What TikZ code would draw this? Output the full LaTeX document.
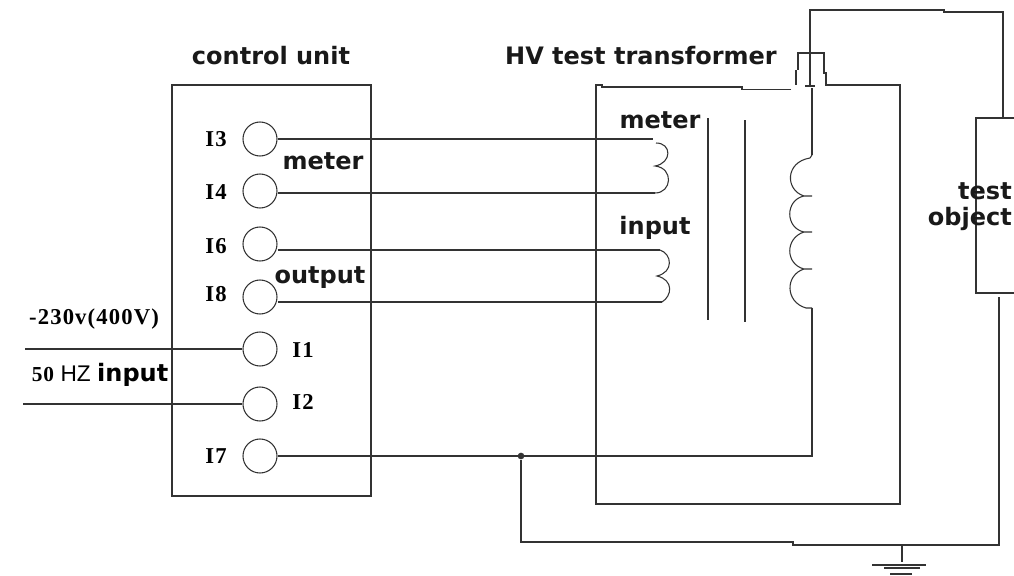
\documentclass[tikz,border=0pt]{standalone}
\usepackage{fontspec}
\setmainfont{Liberation Serif}
\newfontfamily\labelfont{DejaVu Sans}
\newfontfamily\pinfont[LetterSpace=5]{Liberation Serif}
\newfontfamily\hzfont{Liberation Sans}
\definecolor{wire}{gray}{0.2}
\begin{document}
\begin{tikzpicture}[x=0.75pt,y=-0.75pt]
    \tikzset{%
      wire/.style={draw=wire, line width=1.2pt},
      thinwire/.style={draw=wire, line width=0.8pt},
      term/.style={circle, draw=wire, line width=0.8pt, fill=white, inner sep=0pt, minimum
        size=25.5pt},
      jdot/.style={circle, fill=wire, inner sep=0pt, minimum size=5pt},
      pin/.style={font=\pinfont\bfseries\fontsize{17}{18}\selectfont, inner sep=0pt},
      head/.style={font=\labelfont\bfseries\fontsize{18}{19}\selectfont, inner sep=0pt, text=black!90},
    }
    \useasboundingbox (0,0) rectangle (1014,575);

    % control unit
    \draw [thinwire] (172,85) rectangle (371,496);
    \node[head] (CU) at (271,56) {control unit};
    \node[term] (T3) at (260,139) {};
    \node[term] (T4) at (260,191) {};
    \node[term] (T6) at (260,244) {};
    \node[term] (T8) at (260,297) {};
    \node[term] (T1) at (260,349) {};
    \node[term] (T2) at (260,404) {};
    \node[term] (T7) at (260,456) {};
    \node[pin] (P3) at (216,139) {I3};
    \node[pin] (P4) at (216,192) {I4};
    \node[pin] (P6) at (216,246) {I6};
    \node[pin] (P8) at (216,294) {I8};
    \node[pin] (P1) at (303,350) {I1};
    \node[pin] (P2) at (303,402) {I2};
    \node[pin] (P7) at (216,456) {I7};
    \node[head] (Lm) at (323,161) {meter};
    \node[head] (Lo) at (320,278) {output};

    % mains
    \coordinate (M1) at (25,349);
    \coordinate (M2) at (23,404);
    \draw [wire] (M1) -- (T1);
    \draw [wire] (M2) -- (T2);
    \node[pin] (V) at (94,319) {-230v(400V)};
    \node (Hz) at (100,375) [inner sep=0pt] {\pinfont\bfseries\fontsize{16}{18}\selectfont 50 {\hzfont\mdseries\fontsize{17}{18}\selectfont HZ} {\labelfont\bfseries\fontsize{18}{19}\selectfont input}};

    % HV test transformer
    \node[head] (HV) at (641,56) {HV test transformer};
    \draw [wire] (791,89.5) -- (742,89.5) -- (742,87) -- (602,87) -- (602,85) -- (596,85) -- (596,504)
      -- (900,504) -- (900,85) -- (826,85)
      -- (826,73) -- (824,73) -- (824,53) -- (798,53) -- (798,70);
    \draw [wire] (796,70) -- (796,85);

    % meter winding
    \coordinate (A1) at (653,139);
    \coordinate (A2) at (655,193);
    \draw [wire] (T3.east) -- (A1);
    \draw [wire] (T4.east |- A2) -- (A2);
    \draw [thinwire] (656,143) .. controls (672,143) and (672,163) .. (655,166)
      .. controls (674,168) and (672,193) .. (A2);
    \node[head] (Lm2) at (660,120) {meter};

    % input winding
    \coordinate (B1) at (660,250);
    \coordinate (B2) at (662,302);
    \draw [wire] (T6.east |- B1) -- (B1);
    \draw [wire] (T8.east |- B2) -- (B2);
    \draw [thinwire] (B1) .. controls (672,254) and (674,272) .. (657,276)
      .. controls (674,280) and (672,296) .. (B2);
    \node[head] (Li) at (655,228) {input};

    % core
    \coordinate (C1) at (708,118);
    \coordinate (C2) at (708,320);
    \coordinate (C3) at (745,120);
    \coordinate (C4) at (745,322);
    \draw [thinwire] (C1) -- (C2);
    \draw [thinwire] (C3) -- (C4);

    % HV winding
    \coordinate (S0) at (812,88);
    \coordinate (S1) at (812,155);
    \coordinate (S2) at (812,308);
    \coordinate (S3) at (812,456);
    \draw [wire] (S0) -- (S1);
    \draw [thinwire] (S1) -- (810,158) .. controls (785,162) and (785,190) .. (804,196)
      -- (812,196) -- (804,196) .. controls (785,200) and (785,228) .. (804,232)
      -- (812,232) -- (804,232) .. controls (785,238) and (785,264) .. (804,269)
      -- (812,269) -- (804,269) .. controls (785,275) and (785,302) .. (806,308) -- (S2);
    \draw [wire] (S2) -- (S3) -- (T7.east);
    \node[jdot] (J) at (521,456) {};

    % lead to test object
    \coordinate (L0) at (810,86);
    \coordinate (L1) at (810,10);
    \coordinate (L2) at (944,10);
    \coordinate (L3) at (944,12);
    \coordinate (L4) at (1003,12);
    \coordinate (L5) at (1003,118);
    \draw [wire] (805,86) -- (815,86);
    \draw [wire] (L0) -- (L1) -- (L2) -- (L3) -- (L4) -- (L5);

    % test object
    \draw [wire] (1014,118) -- (976,118) -- (976,293) -- (1014,293);
    \node[head, anchor=east] (Lt) at (1012,191) {test};
    \node[head, anchor=east] (Lob) at (1012,219) {object};

    % earth
    \coordinate (E0) at (999,297);
    \coordinate (E1) at (999,545);
    \coordinate (E2) at (793,545);
    \coordinate (E3) at (793,542);
    \coordinate (E4) at (521,542);
    \coordinate (E5) at (902,545);
    \coordinate (E6) at (902,562);
    \draw [wire] (E0) -- (E1) -- (E2) -- (E3) -- (E4) -- (J);
    \draw [wire] (E5) -- (E6);
    \draw [thinwire] (872,565) -- (926,565);
    \draw [wire, line width=2pt] (884,568) -- (920,568);
    \draw [wire, line width=1.6pt] (890,574) -- (912,574);
  \end{tikzpicture}
\end{document}
